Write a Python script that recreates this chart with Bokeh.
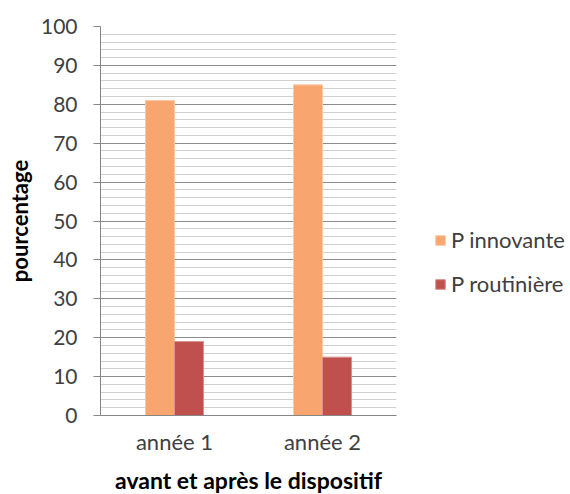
from bokeh.plotting import figure
from bokeh.models import (ColumnDataSource, FactorRange, Range1d, SingleIntervalTicker,
                          Legend, LegendItem)
from bokeh.transform import dodge
from bokeh.embed import file_html
from bokeh.resources import INLINE

categories = ["année 1", "année 2"]
innovante = [81, 85]
routiniere = [19, 15]
series_names = ["P innovante", "P routinière"]
colors = ["#F9A56F", "#C0504D"]

FONT = "Lato"
TEXT = "#404040"

src = ColumnDataSource(data=dict(cat=categories, inn=innovante, rout=routiniere))

p = figure(frame_width=296, frame_height=389, x_range=FactorRange(*categories, range_padding=0),
           y_range=Range1d(0, 100), output_backend="svg", toolbar_location=None,
           min_border_left=100, min_border_right=170, min_border_top=26, min_border_bottom=77)
p.outline_line_color = None
p.background_fill_color = "white"
p.border_fill_color = "white"

r1 = p.vbar(x=dodge("cat", -0.098, range=p.x_range), top="inn", width=0.196, source=src,
            fill_color=colors[0], line_color="#FBC9A8", line_width=1)
r2 = p.vbar(x=dodge("cat", 0.098, range=p.x_range), top="rout", width=0.196, source=src,
            fill_color=colors[1], line_color="#D8908E", line_width=1)

# y axis
p.yaxis.ticker = SingleIntervalTicker(interval=10, num_minor_ticks=5)
p.yaxis.axis_line_color = "#868686"
p.yaxis.major_tick_line_color = "#868686"
p.yaxis.major_tick_out = 7
p.yaxis.major_tick_in = 0
p.yaxis.minor_tick_line_color = None
p.yaxis.major_label_text_font = FONT
p.yaxis.major_label_text_font_size = "21px"
p.yaxis.major_label_text_color = TEXT
p.yaxis.major_label_standoff = 16
p.yaxis.axis_label = "pourcentage"
p.yaxis.axis_label_text_font = FONT
p.yaxis.axis_label_text_font_size = "22px"
p.yaxis.axis_label_text_font_style = "bold"
p.yaxis.axis_label_text_color = "black"
p.yaxis.axis_label_standoff = 5

# x axis
p.xaxis.axis_line_color = "#868686"
p.xaxis.major_tick_line_color = None
p.xaxis.minor_tick_line_color = None
p.xaxis.major_tick_out = 0
p.xaxis.major_label_text_font = FONT
p.xaxis.major_label_text_font_size = "22px"
p.xaxis.major_label_text_color = TEXT
p.xaxis.major_label_standoff = 12
p.xaxis.axis_label = "avant et après le dispositif"
p.xaxis.axis_label_text_font = FONT
p.xaxis.axis_label_text_font_size = "23px"
p.xaxis.axis_label_text_font_style = "bold"
p.xaxis.axis_label_text_color = "black"
p.xaxis.axis_label_standoff = 8

# grids
p.xgrid.grid_line_color = None
p.ygrid.grid_line_color = "#8C8C8C"
p.ygrid.minor_grid_line_color = "#D0D0D0"
p.ygrid.grid_line_width = 1
p.ygrid.minor_grid_line_width = 1

legend = Legend(items=[LegendItem(label=series_names[0], renderers=[r1]),
                       LegendItem(label=series_names[1], renderers=[r2])],
                location=(38, 118))
legend.border_line_color = None
legend.background_fill_alpha = 0
legend.label_text_font = FONT
legend.label_text_font_size = "22px"
legend.label_text_color = TEXT
legend.glyph_width = 12
legend.glyph_height = 12
legend.label_standoff = 5
legend.label_height = 26
legend.spacing = 17
legend.padding = 0
legend.margin = 0
p.add_layout(legend, "right")

open("out.html", "w").write(file_html(p, INLINE))
